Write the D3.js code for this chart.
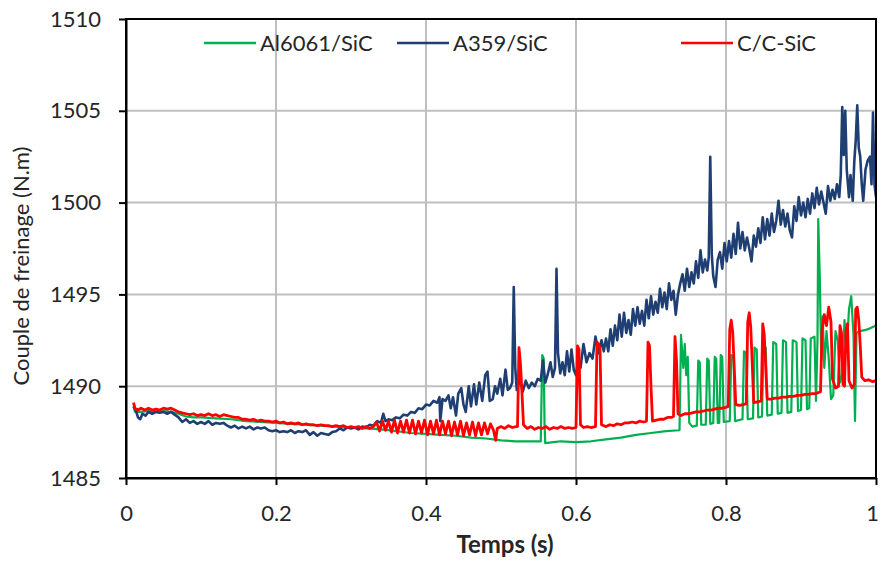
<!DOCTYPE html>
<html>
<head>
<meta charset="utf-8">
<script src="https://cdn.jsdelivr.net/npm/d3@7/dist/d3.min.js"></script>
<style>
  html, body { margin: 0; padding: 0; background: #fff; }
  svg { display: block; font-family: Lato, "Open Sans", sans-serif; }
</style>
</head>
<body>
<svg id="chart" width="881" height="561"></svg>
<script>
// Braking torque over time for three disc materials: [time (s), torque (N.m)]
const seriesNames = ["Al6061/SiC", "A359/SiC", "C/C-SiC"];
const seriesColors = ["#00b050", "#1f3f73", "#ff0000"];

const xTicks = [0, 0.2, 0.4, 0.6, 0.8, 1];
const xTickLabels = ["0", "0.2", "0.4", "0.6", "0.8", "1"];
const yTicks = [1485, 1490, 1495, 1500, 1505, 1510];

const al6061 = [
  [0.010,1488.9],[0.012,1488.6],[0.020,1488.6],[0.030,1488.65],[0.040,1488.6],[0.050,1488.65],[0.060,1488.6],
  [0.070,1488.5],[0.080,1488.35],[0.090,1488.3],[0.100,1488.3],[0.120,1488.25],[0.140,1488.2],[0.160,1488.1],
  [0.180,1488.05],[0.200,1488.0],[0.220,1487.95],[0.240,1487.9],[0.260,1487.85],[0.280,1487.8],[0.300,1487.75],
  [0.320,1487.7],[0.340,1487.65],[0.360,1487.55],[0.380,1487.45],[0.400,1487.4],[0.420,1487.35],[0.440,1487.3],
  [0.460,1487.2],[0.480,1487.15],[0.500,1487.05],[0.520,1487.0],[0.540,1487.0],[0.553,1487.0],[0.555,1491.7],
  [0.557,1491.5],[0.558,1488.0],[0.559,1486.9],[0.570,1486.95],[0.580,1487.0],[0.600,1486.95],[0.620,1487.0],
  [0.640,1487.1],[0.660,1487.2],[0.680,1487.35],[0.700,1487.45],[0.720,1487.55],[0.738,1487.6],
  [0.740,1492.8],[0.743,1491.0],[0.745,1492.3],[0.747,1490.6],[0.749,1491.6],[0.751,1488.0],[0.755,1487.8],
  [0.761,1487.85],[0.763,1491.4],[0.765,1491.3],[0.767,1487.9],[0.773,1487.9],[0.775,1491.5],[0.777,1491.4],
  [0.779,1487.95],[0.783,1488.0],[0.785,1491.6],[0.787,1491.5],[0.789,1488.0],[0.791,1488.0],[0.793,1491.7],
  [0.795,1491.6],[0.797,1488.05],[0.805,1488.1],[0.807,1491.7],[0.810,1491.6],[0.812,1488.1],[0.822,1488.2],
  [0.824,1491.9],[0.827,1491.8],[0.829,1488.2],[0.836,1488.25],[0.838,1492.1],[0.841,1492.0],[0.843,1488.3],
  [0.848,1488.35],[0.850,1492.2],[0.853,1492.1],[0.855,1488.4],[0.861,1488.45],[0.863,1492.4],[0.867,1492.3],
  [0.869,1488.5],[0.874,1488.55],[0.876,1492.5],[0.880,1492.4],[0.882,1488.55],[0.887,1488.6],[0.889,1492.5],
  [0.894,1492.4],[0.896,1488.65],[0.900,1488.7],[0.902,1492.6],[0.906,1492.5],[0.908,1488.75],[0.911,1488.8],
  [0.913,1492.6],[0.918,1492.7],[0.920,1489.2],[0.922,1492.5],[0.923,1499.1],[0.925,1496.0],[0.927,1491.4],
  [0.929,1493.8],[0.931,1491.0],[0.934,1493.0],[0.937,1491.5],[0.940,1489.3],[0.943,1489.5],[0.946,1493.0],
  [0.949,1492.5],[0.952,1490.2],[0.955,1490.6],[0.958,1493.6],[0.961,1492.0],[0.964,1494.2],[0.967,1494.9],
  [0.970,1492.8],[0.972,1488.1],[0.974,1492.9],[0.978,1493.0],[0.985,1493.05],[0.992,1493.15],[1.000,1493.3]
];

const a359 = [
  [0.010,1488.9],[0.013,1488.7],[0.016,1488.3],[0.019,1488.2],[0.022,1488.5],[0.026,1488.4],[0.030,1488.6],
  [0.035,1488.5],[0.040,1488.6],[0.045,1488.55],[0.050,1488.6],[0.055,1488.5],[0.060,1488.6],[0.065,1488.45],
  [0.070,1488.3],[0.075,1488.05],[0.080,1488.2],[0.085,1488.0],[0.090,1488.1],[0.095,1487.95],[0.100,1488.05],
  [0.105,1487.95],[0.110,1488.1],[0.115,1487.9],[0.120,1488.0],[0.125,1487.95],[0.130,1488.0],[0.135,1487.85],
  [0.140,1487.75],[0.145,1487.85],[0.150,1487.7],[0.155,1487.8],[0.160,1487.7],[0.165,1487.8],[0.170,1487.65],
  [0.175,1487.75],[0.180,1487.7],[0.185,1487.75],[0.190,1487.6],[0.195,1487.55],[0.200,1487.6],[0.205,1487.5],
  [0.210,1487.55],[0.215,1487.5],[0.220,1487.6],[0.225,1487.45],[0.230,1487.55],[0.235,1487.5],[0.240,1487.6],
  [0.245,1487.35],[0.250,1487.5],[0.255,1487.3],[0.260,1487.45],[0.265,1487.4],[0.270,1487.35],[0.275,1487.5],
  [0.280,1487.55],[0.285,1487.7],[0.290,1487.6],[0.295,1487.75],[0.300,1487.7],[0.305,1487.75],[0.310,1487.65],
  [0.315,1487.8],[0.320,1487.75],[0.325,1487.9],[0.330,1487.85],[0.335,1488.1],[0.340,1488.0],[0.343,1488.5],
  [0.346,1488.1],[0.350,1488.2],[0.355,1488.15],[0.360,1488.3],[0.365,1488.25],[0.370,1488.45],[0.375,1488.4],
  [0.380,1488.6],[0.385,1488.55],[0.390,1488.8],[0.395,1488.75],[0.400,1489.0],[0.405,1488.95],[0.410,1489.2],
  [0.415,1489.1],[0.418,1489.4],[0.419,1488.1],[0.422,1489.3],[0.426,1489.2],[0.430,1489.5],[0.433,1488.8],
  [0.436,1489.4],[0.440,1488.4],[0.443,1489.6],[0.447,1489.9],[0.450,1489.0],[0.453,1488.6],[0.457,1490.0],
  [0.460,1488.9],[0.464,1490.1],[0.467,1489.0],[0.471,1490.2],[0.475,1489.2],[0.479,1490.6],[0.482,1490.8],
  [0.485,1489.2],[0.489,1489.3],[0.492,1490.0],[0.495,1489.6],[0.499,1490.4],[0.502,1489.5],[0.506,1490.9],
  [0.509,1489.8],[0.512,1489.9],[0.515,1490.2],[0.517,1495.4],[0.519,1491.0],[0.521,1489.8],[0.525,1490.4],
  [0.529,1489.7],[0.533,1490.3],[0.537,1489.9],[0.541,1490.2],[0.545,1490.0],[0.549,1490.4],[0.553,1490.3],
  [0.556,1491.4],[0.559,1490.2],[0.562,1490.6],[0.566,1491.3],[0.569,1490.5],[0.572,1491.0],[0.574,1496.4],
  [0.576,1491.8],[0.579,1490.7],[0.582,1491.3],[0.585,1490.6],[0.588,1491.9],[0.591,1490.8],[0.594,1492.0],
  [0.597,1490.9],[0.600,1490.6],[0.603,1491.4],[0.606,1491.0],[0.610,1492.3],[0.614,1491.3],[0.618,1491.8],
  [0.622,1491.5],[0.626,1492.7],[0.630,1491.8],[0.634,1492.5],[0.637,1491.9],[0.640,1492.6],[0.643,1491.9],
  [0.646,1493.1],[0.649,1492.2],[0.652,1493.3],[0.655,1492.5],[0.658,1493.9],[0.661,1492.7],[0.664,1494.0],
  [0.667,1492.9],[0.670,1493.6],[0.673,1492.8],[0.676,1494.2],[0.679,1493.3],[0.682,1494.3],[0.685,1493.4],
  [0.688,1494.1],[0.691,1493.3],[0.694,1494.7],[0.697,1493.7],[0.700,1494.9],[0.703,1493.9],[0.706,1494.6],
  [0.709,1494.0],[0.712,1495.3],[0.715,1494.3],[0.718,1495.1],[0.721,1494.2],[0.724,1495.6],[0.727,1494.7],
  [0.730,1495.2],[0.733,1493.9],[0.736,1495.0],[0.739,1495.6],[0.742,1496.1],[0.745,1495.2],[0.748,1496.4],
  [0.751,1495.4],[0.754,1496.2],[0.757,1495.6],[0.760,1496.8],[0.763,1495.9],[0.766,1497.4],[0.769,1496.2],
  [0.772,1496.9],[0.775,1496.3],[0.777,1497.0],[0.779,1502.5],[0.781,1497.2],[0.783,1496.0],[0.786,1495.4],
  [0.789,1496.9],[0.792,1497.3],[0.795,1496.4],[0.798,1497.8],[0.801,1496.8],[0.804,1497.9],[0.807,1497.0],
  [0.810,1498.3],[0.813,1497.2],[0.816,1498.9],[0.819,1497.5],[0.822,1498.4],[0.825,1497.4],[0.828,1498.1],
  [0.831,1497.5],[0.834,1496.8],[0.837,1498.2],[0.840,1497.6],[0.843,1498.6],[0.846,1497.8],[0.849,1499.2],
  [0.852,1498.0],[0.855,1499.1],[0.858,1498.2],[0.861,1499.4],[0.864,1498.4],[0.867,1499.0],[0.870,1500.1],
  [0.873,1498.8],[0.876,1499.6],[0.879,1498.7],[0.882,1499.4],[0.885,1498.5],[0.888,1498.1],[0.891,1499.8],
  [0.894,1499.0],[0.897,1500.3],[0.900,1499.3],[0.903,1500.0],[0.906,1499.2],[0.909,1500.2],[0.912,1499.4],
  [0.915,1500.5],[0.918,1499.7],[0.921,1500.8],[0.924,1499.9],[0.927,1500.6],[0.930,1500.0],[0.933,1499.4],
  [0.936,1500.9],[0.939,1500.1],[0.942,1500.7],[0.945,1500.2],[0.948,1501.0],[0.951,1500.3],[0.953,1501.5],
  [0.955,1505.2],[0.957,1502.6],[0.959,1505.0],[0.961,1501.8],[0.964,1500.3],[0.966,1501.5],[0.969,1500.1],
  [0.971,1502.2],[0.973,1503.4],[0.975,1505.3],[0.977,1503.0],[0.979,1502.5],[0.981,1501.0],[0.983,1500.1],
  [0.986,1501.8],[0.989,1502.3],[0.992,1502.5],[0.994,1501.0],[0.996,1504.9],[0.998,1501.0],[1.000,1500.3]
];

const ccsic = [
  [0.010,1489.1],[0.012,1488.8],[0.016,1488.7],[0.020,1488.8],[0.025,1488.7],[0.030,1488.8],[0.035,1488.7],
  [0.040,1488.75],[0.045,1488.7],[0.050,1488.8],[0.055,1488.75],[0.060,1488.8],[0.065,1488.7],[0.070,1488.6],
  [0.075,1488.55],[0.080,1488.5],[0.085,1488.45],[0.090,1488.5],[0.095,1488.4],[0.100,1488.45],[0.105,1488.4],
  [0.110,1488.5],[0.115,1488.4],[0.120,1488.45],[0.125,1488.35],[0.130,1488.45],[0.135,1488.4],[0.140,1488.35],
  [0.145,1488.3],[0.150,1488.3],[0.155,1488.2],[0.160,1488.2],[0.165,1488.15],[0.170,1488.2],[0.175,1488.1],
  [0.180,1488.15],[0.185,1488.1],[0.190,1488.1],[0.195,1488.05],[0.200,1488.1],[0.205,1488.0],[0.210,1488.05],
  [0.215,1487.95],[0.220,1488.0],[0.225,1487.95],[0.230,1488.0],[0.235,1487.9],[0.240,1487.95],[0.245,1487.9],
  [0.250,1487.9],[0.255,1487.85],[0.260,1487.9],[0.265,1487.85],[0.270,1487.85],[0.275,1487.8],[0.280,1487.85],
  [0.285,1487.8],[0.290,1487.85],[0.295,1487.75],[0.300,1487.8],[0.305,1487.75],[0.310,1487.8],[0.315,1487.7],
  [0.320,1487.8],[0.325,1487.7],[0.330,1487.8],[0.334,1488.05],[0.338,1487.55],[0.342,1488.1],[0.346,1487.6],
  [0.350,1488.1],[0.354,1487.5],[0.358,1488.15],[0.362,1487.45],[0.366,1488.1],[0.370,1487.5],[0.374,1488.15],
  [0.378,1487.45],[0.382,1488.15],[0.386,1487.4],[0.390,1488.1],[0.394,1487.45],[0.398,1488.15],[0.402,1487.35],
  [0.406,1488.1],[0.410,1487.4],[0.414,1488.15],[0.418,1487.35],[0.422,1488.1],[0.426,1487.4],[0.430,1488.1],
  [0.434,1487.3],[0.438,1488.05],[0.442,1487.35],[0.446,1488.1],[0.450,1487.3],[0.454,1488.0],[0.458,1487.35],
  [0.462,1488.05],[0.466,1487.3],[0.470,1488.0],[0.474,1487.35],[0.478,1488.0],[0.482,1487.4],[0.486,1487.95],
  [0.490,1487.6],[0.493,1487.05],[0.495,1487.7],[0.500,1487.8],[0.505,1487.7],[0.510,1487.85],[0.515,1487.75],
  [0.520,1487.8],[0.522,1487.8],[0.524,1492.1],[0.526,1491.2],[0.528,1489.6],[0.530,1487.9],[0.535,1487.7],
  [0.540,1487.8],[0.545,1487.65],[0.550,1487.75],[0.555,1487.7],[0.560,1487.8],[0.565,1487.65],[0.570,1487.75],
  [0.575,1487.7],[0.580,1487.8],[0.585,1487.7],[0.590,1487.75],[0.595,1487.7],[0.600,1487.75],[0.602,1492.2],
  [0.604,1492.0],[0.606,1487.9],[0.610,1487.75],[0.615,1487.8],[0.620,1487.75],[0.626,1487.8],[0.628,1492.4],
  [0.630,1492.3],[0.632,1492.1],[0.634,1487.9],[0.640,1487.8],[0.645,1487.9],[0.650,1487.85],[0.655,1487.95],
  [0.660,1487.9],[0.665,1488.0],[0.670,1488.0],[0.675,1488.05],[0.680,1488.0],[0.685,1488.1],[0.690,1488.05],
  [0.694,1488.1],[0.696,1492.4],[0.698,1492.2],[0.700,1490.0],[0.702,1488.1],[0.707,1488.15],[0.712,1488.2],
  [0.717,1488.2],[0.722,1488.3],[0.727,1488.3],[0.730,1488.35],[0.732,1492.7],[0.734,1491.4],[0.736,1488.5],
  [0.740,1488.4],[0.745,1488.5],[0.750,1488.5],[0.755,1488.55],[0.760,1488.6],[0.765,1488.6],[0.770,1488.65],
  [0.775,1488.7],[0.780,1488.7],[0.785,1488.75],[0.790,1488.8],[0.795,1488.8],[0.800,1488.85],[0.803,1488.9],
  [0.805,1493.1],[0.807,1493.6],[0.809,1492.9],[0.811,1491.0],[0.813,1489.0],[0.818,1488.95],[0.823,1489.0],
  [0.827,1489.05],[0.829,1493.5],[0.831,1494.0],[0.833,1493.2],[0.835,1491.2],[0.837,1489.1],[0.842,1489.15],
  [0.847,1489.2],[0.849,1493.4],[0.851,1492.8],[0.853,1491.0],[0.855,1489.3],[0.860,1489.3],[0.865,1489.35],
  [0.870,1489.35],[0.875,1489.4],[0.880,1489.4],[0.885,1489.45],[0.890,1489.45],[0.895,1489.5],[0.900,1489.5],
  [0.905,1489.55],[0.910,1489.55],[0.915,1489.6],[0.920,1489.6],[0.926,1489.7],[0.928,1493.0],[0.931,1493.9],
  [0.934,1493.3],[0.937,1494.3],[0.940,1493.5],[0.942,1490.4],[0.946,1489.9],[0.950,1490.0],[0.952,1493.3],
  [0.954,1492.9],[0.956,1490.1],[0.958,1490.0],[0.960,1493.0],[0.962,1493.4],[0.964,1490.3],[0.968,1489.9],
  [0.971,1490.1],[0.973,1494.2],[0.975,1494.3],[0.977,1493.6],[0.979,1492.2],[0.981,1490.5],[0.985,1490.3],
  [0.990,1490.35],[0.995,1490.25],[1.000,1490.3]
];

const seriesData = [al6061, a359, ccsic];
const seriesWidths = [2.2, 2.6, 2.8];

const svg = d3.select("#chart");
const W = 881, H = 561;
const margin = { left: 126, right: 5, top: 19, bottom: 83 };
const plotW = W - margin.left - margin.right;
const plotH = H - margin.top - margin.bottom;

svg.append("rect").attr("width", W).attr("height", H).attr("fill", "#fff");

const x = d3.scaleLinear().domain([0, 1]).range([margin.left, margin.left + plotW]);
const y = d3.scaleLinear().domain([1485, 1510]).range([margin.top + plotH, margin.top]);

const textColor = "#262626";

// Gridlines
const grid = svg.append("g");
grid.selectAll("line.v").data(xTicks.slice(1, -1)).join("line")
  .attr("x1", d => x(d)).attr("x2", d => x(d))
  .attr("y1", y(1485)).attr("y2", y(1510))
  .attr("stroke", "#bfbfbf").attr("stroke-width", 2);
grid.selectAll("line.h").data(yTicks.slice(1, -1)).join("line")
  .attr("x1", x(0)).attr("x2", x(1))
  .attr("y1", d => y(d)).attr("y2", d => y(d))
  .attr("stroke", "#bfbfbf").attr("stroke-width", 2);

// Series lines
const line = d3.line().x(d => x(d[0])).y(d => y(d[1]));
svg.append("clipPath").attr("id", "plotClip")
  .append("rect").attr("x", x(0)).attr("y", y(1510)).attr("width", x(1) - x(0)).attr("height", y(1485) - y(1510));
const lines = svg.append("g").attr("clip-path", "url(#plotClip)");
seriesData.forEach((data, i) => {
  lines.append("path")
    .datum(data)
    .attr("d", line)
    .attr("fill", "none")
    .attr("stroke", seriesColors[i])
    .attr("stroke-width", seriesWidths[i])
    .attr("stroke-linejoin", "round");
});

// Plot frame
svg.append("rect")
  .attr("x", x(0)).attr("y", y(1510))
  .attr("width", x(1) - x(0)).attr("height", y(1485) - y(1510))
  .attr("fill", "none").attr("stroke", "#000").attr("stroke-width", 2);

// Axes
const xAxis = d3.axisBottom(x).tickValues(xTicks).tickFormat((d, i) => xTickLabels[i])
  .tickSizeInner(7).tickSizeOuter(0).tickPadding(20);
const gx = svg.append("g").attr("transform", `translate(0,${y(1485)})`).call(xAxis);
gx.select(".domain").attr("stroke", "#000").attr("stroke-width", 2);
gx.selectAll(".tick line").attr("stroke", "#000").attr("stroke-width", 2);
gx.selectAll(".tick text").attr("fill", textColor).style("font-size", "22px").style("font-family", "Lato, sans-serif")
  .attr("dx", (d, i) => i === xTicks.length - 1 ? -4 : 0);

const yAxis = d3.axisLeft(y).tickValues(yTicks).tickFormat(d3.format("d"))
  .tickSizeInner(7).tickSizeOuter(0).tickPadding(18);
const gy = svg.append("g").attr("transform", `translate(${x(0)},0)`).call(yAxis);
gy.select(".domain").attr("stroke", "#000").attr("stroke-width", 2);
gy.selectAll(".tick line").attr("stroke", "#000").attr("stroke-width", 2);
gy.selectAll(".tick text").attr("fill", textColor).style("font-size", "22px").style("font-family", "Lato, sans-serif");

// Axis titles
svg.append("text")
  .attr("x", (x(0) + x(1)) / 2 + 4).attr("y", 553)
  .attr("text-anchor", "middle")
  .attr("fill", textColor)
  .style("font-size", "24px").style("font-weight", "bold")
  .text("Temps (s)");

svg.append("text")
  .attr("transform", `translate(29,266) rotate(-90)`)
  .attr("text-anchor", "middle")
  .attr("fill", textColor)
  .style("font-size", "22px")
  .text("Couple de freinage (N.m)");

// Legend
const legendX = [204, 397, 681];
const legend = svg.append("g");
seriesNames.forEach((name, i) => {
  const g = legend.append("g").attr("transform", `translate(${legendX[i]},43)`);
  g.append("line").attr("x1", 0).attr("x2", 52).attr("y1", 0).attr("y2", 0)
    .attr("stroke", seriesColors[i]).attr("stroke-width", 2.4);
  g.append("text").attr("x", 56).attr("y", 0).attr("dy", "0.35em")
    .attr("fill", textColor).style("font-size", "22px")
    .text(name);
});
</script>
</body>
</html>
